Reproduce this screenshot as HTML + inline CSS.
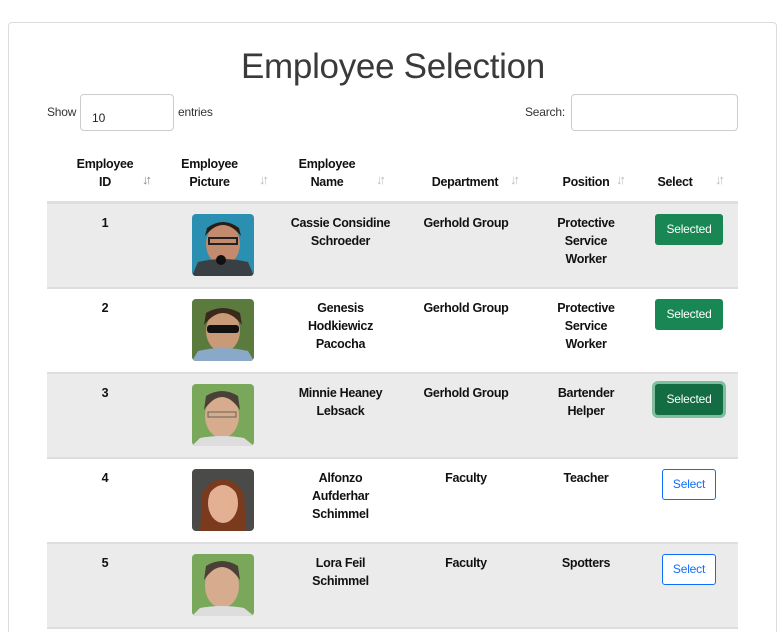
<!DOCTYPE html>
<html style="width:780px;height:632px;overflow:hidden"><head><meta charset="utf-8"><style>
*{box-sizing:border-box;margin:0;padding:0}
body{width:780px;height:632px;overflow:hidden;background:#fff;font-family:"Liberation Sans",sans-serif;color:#212529;position:relative}
.card{position:absolute;left:8px;top:22px;width:769px;height:610px;border:1px solid #dcdcdc;border-bottom:none;border-radius:4px 4px 0 0}
.title{position:absolute;left:0;width:786px;top:47px;text-align:center;font-size:35px;font-weight:300;color:#3a3a3a;letter-spacing:-0.3px}
.lbl{position:absolute;font-size:12px;color:#333;letter-spacing:-0.2px}
.inp{position:absolute;border:1px solid #ccc;border-radius:4px;background:#fff;font-size:12px}
.th{position:absolute;font-size:12.5px;font-weight:bold;text-align:center;line-height:18px;color:#111;letter-spacing:-0.3px}
.sort{position:absolute;font-size:13px;color:#bbb;letter-spacing:-3px}
.row{position:absolute;left:47px;width:691px;height:85px;border-bottom:2px solid #dedede}
.cell{position:absolute;top:10px;font-size:12.5px;font-weight:bold;text-align:center;line-height:18px;color:#111;letter-spacing:-0.3px}
.pic{position:absolute;left:145px;top:10px;width:62px;height:62px;border-radius:4px;overflow:hidden}
.btn{position:absolute;font-size:12px;text-align:center;border-radius:3px;letter-spacing:-0.2px}
.sel{left:608px;top:10px;width:68px;height:31px;line-height:31px;background:#198754;color:#fff}
.sel.focus{background:#146c43;box-shadow:0 0 0 3px #7fbf9e}
.out{left:615px;top:10px;width:54px;height:31px;line-height:29px;border:1px solid #0d6efd;color:#0d6efd;background:#fff}
</style></head><body>
<div class="card"></div>
<div class="title">Employee Selection</div>
<div class="lbl" style="left:47px;top:105px">Show</div>
<div class="inp" style="left:80px;top:94px;width:94px;height:37px;padding:16px 0 0 11px">10</div>
<div class="lbl" style="left:178px;top:105px">entries</div>
<div class="lbl" style="left:525px;top:105px">Search:</div>
<div class="inp" style="left:571px;top:94px;width:167px;height:37px"></div>

<div class="th" style="left:47px;width:116px;top:155px">Employee<br>ID</div>
<div class="th" style="left:163px;width:93px;top:155px">Employee<br>Picture</div>
<div class="th" style="left:283px;width:88px;top:155px">Employee<br>Name</div>
<div class="th" style="left:399px;width:134px;top:173px"><span style="margin-left:-2px">Department</span></div>
<div class="th" style="left:533px;width:106px;top:173px">Position</div>
<div class="th" style="left:639px;width:72px;top:173px">Select</div>
<div class="sort" style="left:142px;top:172px;color:#888">↓↑</div>
<div class="sort" style="left:259px;top:172px">↓↑</div>
<div class="sort" style="left:376px;top:172px">↓↑</div>
<div class="sort" style="left:510px;top:172px">↓↑</div>
<div class="sort" style="left:616px;top:172px">↓↑</div>
<div class="sort" style="left:715px;top:172px">↓↑</div>
<div style="position:absolute;left:47px;top:201px;width:691px;height:3px;background:#dedede"></div>

<div class="row" style="top:204px;background:#ebebeb">
<div class="cell" style="left:0;width:116px">1</div>
<div class="pic"><svg width="62" height="62"><rect width="62" height="62" fill="#2a8fb0"/><ellipse cx="31" cy="30" rx="17" ry="21" fill="#c48a6e"/><path d="M13 22 Q31 0 49 22 L47 14 Q31 2 15 14Z" fill="#2b1d16"/><rect x="17" y="24" width="28" height="6" fill="none" stroke="#222" stroke-width="2"/><path d="M0 62 L6 48 Q31 42 56 48 L62 62Z" fill="#3a3f44"/><circle cx="29" cy="46" r="5" fill="#111"/></svg></div>
<div class="cell" style="left:236px;width:115px">Cassie Considine Schroeder</div>
<div class="cell" style="left:352px;width:134px">Gerhold Group</div>
<div class="cell" style="left:486px;width:106px">Protective<br>Service<br>Worker</div>
<div class="btn sel">Selected</div>
</div>

<div class="row" style="top:289px;background:#fff">
<div class="cell" style="left:0;width:116px">2</div>
<div class="pic"><svg width="62" height="62"><rect width="62" height="62" fill="#5b7a3e"/><ellipse cx="31" cy="32" rx="17" ry="21" fill="#c99a78"/><path d="M12 26 Q31 2 50 26 L48 14 Q31 4 14 14Z" fill="#3b2a1c"/><rect x="15" y="26" width="32" height="8" rx="3" fill="#111"/><path d="M0 62 L6 52 Q31 46 56 52 L62 62Z" fill="#8aa8c8"/></svg></div>
<div class="cell" style="left:236px;width:115px">Genesis<br>Hodkiewicz<br>Pacocha</div>
<div class="cell" style="left:352px;width:134px">Gerhold Group</div>
<div class="cell" style="left:486px;width:106px">Protective<br>Service<br>Worker</div>
<div class="btn sel">Selected</div>
</div>

<div class="row" style="top:374px;background:#ebebeb">
<div class="cell" style="left:0;width:116px">3</div>
<div class="pic"><svg width="62" height="62"><rect width="62" height="62" fill="#7aa85a"/><ellipse cx="30" cy="32" rx="17" ry="22" fill="#d7ab8e"/><path d="M12 26 Q30 0 48 26 L46 12 Q30 2 14 12Z" fill="#4a4038"/><rect x="16" y="28" width="28" height="5" fill="none" stroke="#665" stroke-width="1"/><path d="M0 62 L8 54 Q30 50 52 54 L62 62Z" fill="#ddd"/></svg></div>
<div class="cell" style="left:236px;width:115px">Minnie Heaney Lebsack</div>
<div class="cell" style="left:352px;width:134px">Gerhold Group</div>
<div class="cell" style="left:486px;width:106px">Bartender<br>Helper</div>
<div class="btn sel focus">Selected</div>
</div>

<div class="row" style="top:459px;background:#fff">
<div class="cell" style="left:0;width:116px">4</div>
<div class="pic"><svg width="62" height="62"><rect width="62" height="62" fill="#4a4a48"/><path d="M8 62 L10 24 Q31 -4 52 24 L54 62Z" fill="#7a3a1e"/><ellipse cx="31" cy="34" rx="15" ry="20" fill="#e3b094"/><path d="M16 26 Q31 6 46 26 L44 14 Q31 8 18 14Z" fill="#7a3a1e"/></svg></div>
<div class="cell" style="left:236px;width:115px">Alfonzo<br>Aufderhar<br>Schimmel</div>
<div class="cell" style="left:352px;width:134px">Faculty</div>
<div class="cell" style="left:486px;width:106px">Teacher</div>
<div class="btn out">Select</div>
</div>

<div class="row" style="top:544px;background:#ebebeb">
<div class="cell" style="left:0;width:116px">5</div>
<div class="pic"><svg width="62" height="62"><rect width="62" height="62" fill="#7aa85a"/><ellipse cx="30" cy="32" rx="17" ry="22" fill="#d7ab8e"/><path d="M12 26 Q30 0 48 26 L46 12 Q30 2 14 12Z" fill="#4a4038"/><path d="M0 62 L8 54 Q30 50 52 54 L62 62Z" fill="#ddd"/></svg></div>
<div class="cell" style="left:236px;width:115px">Lora Feil<br>Schimmel</div>
<div class="cell" style="left:352px;width:134px">Faculty</div>
<div class="cell" style="left:486px;width:106px">Spotters</div>
<div class="btn out">Select</div>
</div>
</body></html>
